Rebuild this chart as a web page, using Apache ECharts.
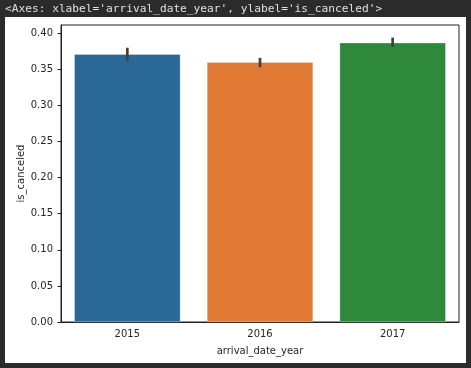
<!DOCTYPE html>
<html>
<head>
<meta charset="UTF-8">
<title>is_canceled by arrival_date_year</title>
<script src="https://cdn.jsdelivr.net/npm/echarts@6/dist/echarts.min.js"></script>
<style>
  html, body { margin: 0; padding: 0; background: #2b2b2b; }
</style>
</head>
<body>
<div id="main" style="width: 471px;height:368px;"></div>
<script type="text/javascript">
// data
var years = ['2015', '2016', '2017'];
var canceledMean = [0.371, 0.360, 0.387];
var ciLow = [0.362, 0.353, 0.381];
var ciHigh = [0.380, 0.366, 0.394];
var barColors = ['#2a6898', '#e07a35', '#2e893a'];

var myChart = echarts.init(document.getElementById('main'));

var textColor = '#262626';
var option = {
    backgroundColor: '#2b2b2b',
    animation: false,
    graphic: [
        {
            type: 'rect',
            shape: { x: 5, y: 17, width: 461, height: 346 },
            style: { fill: '#ffffff' },
            z: -10
        },
        {
            type: 'text',
            left: 5,
            top: 4,
            style: {
                text: "<Axes: xlabel='arrival_date_year', ylabel='is_canceled'>",
                fill: '#e0e0e0',
                font: '11.2px "DejaVu Sans Mono"'
            }
        }
    ],
    grid: {
        left: 61, right: 12, top: 25, bottom: 46,
        show: true, borderColor: '#222', borderWidth: 1
    },
    xAxis: {
        type: 'category',
        data: years,
        name: 'arrival_date_year',
        nameLocation: 'middle',
        nameGap: 24,
        nameMoveOverlap: false,
        nameTextStyle: { color: textColor, fontSize: 10, fontFamily: 'DejaVu Sans' },
        axisLine: { lineStyle: { color: '#222' } },
        axisTick: { alignWithLabel: true, length: 3.5, lineStyle: { color: '#222' } },
        axisLabel: { color: textColor, fontSize: 10, fontFamily: 'DejaVu Sans', margin: 7 }
    },
    yAxis: {
        type: 'value',
        min: 0,
        max: 0.4115,
        interval: 0.05,
        name: 'is_canceled',
        nameLocation: 'middle',
        nameGap: 35,
        nameMoveOverlap: false,
        nameTextStyle: { color: textColor, fontSize: 10, fontFamily: 'DejaVu Sans' },
        splitLine: { show: false },
        axisLine: { show: true, lineStyle: { color: '#222' } },
        axisTick: { show: true, length: 3.5, lineStyle: { color: '#222' } },
        axisLabel: {
            color: textColor, fontSize: 10, fontFamily: 'DejaVu Sans', margin: 8,
            showMaxLabel: false,
            formatter: function (v) { return v.toFixed(2); }
        }
    },
    series: [
        {
            type: 'bar',
            barWidth: '80%',
            data: canceledMean.map(function (v, i) {
                return { value: v, itemStyle: { color: barColors[i] } };
            }),
            itemStyle: { borderColor: 'rgba(255,255,255,0.6)', borderWidth: 0.5 }
        },
        {
            type: 'custom',
            data: years.map(function (y, i) { return [i, ciLow[i], ciHigh[i]]; }),
            renderItem: function (params, api) {
                var lo = api.coord([api.value(0), api.value(1)]);
                var hi = api.coord([api.value(0), api.value(2)]);
                return {
                    type: 'line',
                    shape: { x1: lo[0], y1: lo[1], x2: hi[0], y2: hi[1] },
                    style: { stroke: '#424242', lineWidth: 2.7 }
                };
            },
            z: 10
        }
    ]
};

myChart.setOption(option);
</script>
</body>
</html>
